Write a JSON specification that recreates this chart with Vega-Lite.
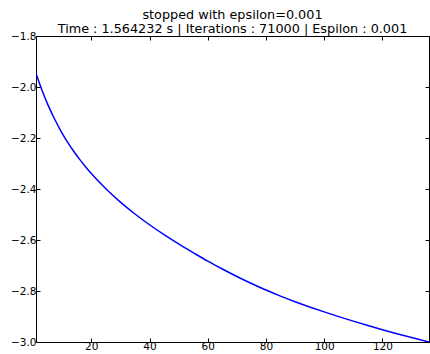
{
  "$schema": "https://vega.github.io/schema/vega-lite/v6.json",
  "width": 393,
  "height": 306,
  "autosize": "none",
  "padding": {"left": 36, "top": 36, "right": 1, "bottom": 12},
  "background": "white",
  "config": {
    "font": "DejaVu Sans",
    "view": {"stroke": "black", "strokeWidth": 1},
    "axis": {
      "domain": true,
      "domainColor": "black",
      "domainWidth": 1,
      "grid": false,
      "tickColor": "black",
      "tickSize": -4,
      "labelFont": "DejaVu Sans",
      "labelFontSize": 10.5,
      "labelColor": "black",
      "title": null
    }
  },
  "title": {
    "text": ["stopped with epsilon=0.001", "Time : 1.564232 s | Iterations : 71000 | Espilon : 0.001"],
    "font": "DejaVu Sans",
    "fontSize": 12.8,
    "fontWeight": "normal",
    "color": "black",
    "anchor": "middle",
    "lineHeight": 14.4,
    "offset": -5
  },
  "data": {
    "values": [
      {"x": 1, "y": -1.946},
      {"x": 2, "y": -1.9797},
      {"x": 3, "y": -2.0109},
      {"x": 4, "y": -2.0399},
      {"x": 5, "y": -2.067},
      {"x": 6, "y": -2.0925},
      {"x": 7, "y": -2.1166},
      {"x": 8, "y": -2.1393},
      {"x": 9, "y": -2.1609},
      {"x": 10, "y": -2.1814},
      {"x": 12, "y": -2.219},
      {"x": 14, "y": -2.2528},
      {"x": 16, "y": -2.2837},
      {"x": 18, "y": -2.3125},
      {"x": 20, "y": -2.3393},
      {"x": 25, "y": -2.3993},
      {"x": 30, "y": -2.4515},
      {"x": 35, "y": -2.498},
      {"x": 40, "y": -2.5402},
      {"x": 45, "y": -2.579},
      {"x": 50, "y": -2.6154},
      {"x": 55, "y": -2.6496},
      {"x": 60, "y": -2.683},
      {"x": 65, "y": -2.7138},
      {"x": 70, "y": -2.7431},
      {"x": 75, "y": -2.7707},
      {"x": 80, "y": -2.7963},
      {"x": 85, "y": -2.82},
      {"x": 90, "y": -2.842},
      {"x": 95, "y": -2.8625},
      {"x": 100, "y": -2.8819},
      {"x": 105, "y": -2.9004},
      {"x": 110, "y": -2.9182},
      {"x": 115, "y": -2.9352},
      {"x": 120, "y": -2.9516},
      {"x": 125, "y": -2.9673},
      {"x": 130, "y": -2.9826},
      {"x": 136, "y": -3.0}
    ]
  },
  "layer": [
    {
      "mark": {"type": "line", "color": "#0000ff", "strokeWidth": 1.5, "interpolate": "monotone", "clip": true},
      "encoding": {
        "x": {"field": "x", "type": "quantitative",
              "scale": {"domain": [1, 136], "nice": false, "zero": false},
              "axis": {"orient": "bottom", "values": [20, 40, 60, 80, 100, 120], "labelPadding": 3}},
        "y": {"field": "y", "type": "quantitative",
              "scale": {"domain": [-3.0, -1.8], "nice": false, "zero": false},
              "axis": {"orient": "left", "values": [-3.0, -2.8, -2.6, -2.4, -2.2, -2.0, -1.8], "format": ".1f", "labelPadding": 4}}
      }
    },
    {
      "mark": {"type": "line", "opacity": 0},
      "encoding": {
        "x": {"field": "x", "type": "quantitative",
              "axis": {"orient": "top", "values": [20, 40, 60, 80, 100, 120], "labels": false}},
        "y": {"field": "y", "type": "quantitative",
              "axis": {"orient": "right", "values": [-3.0, -2.8, -2.6, -2.4, -2.2, -2.0, -1.8], "labels": false}}
      }
    }
  ],
  "resolve": {"axis": {"x": "independent", "y": "independent"}}
}
